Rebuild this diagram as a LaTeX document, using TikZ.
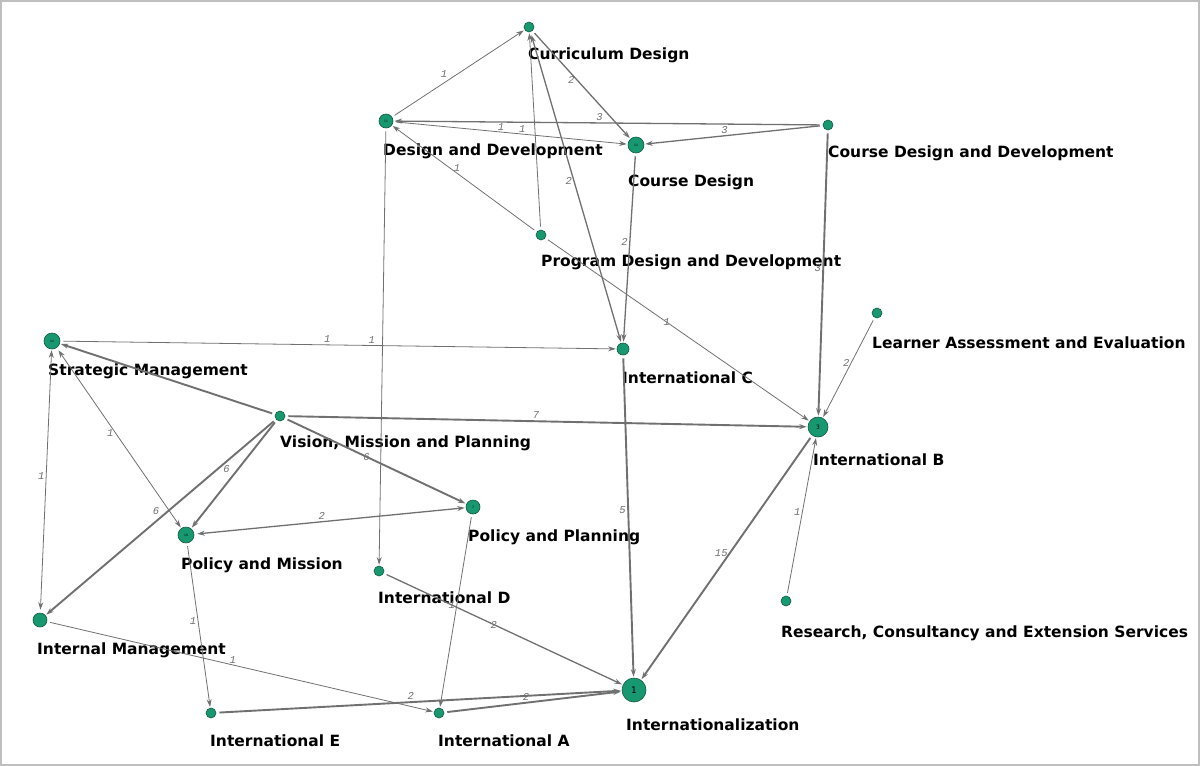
\documentclass[tikz,border=0pt]{standalone}
\usepackage{fontspec}
\setmainfont{DejaVu Sans}
\setmonofont{Liberation Mono}
\usetikzlibrary{arrows.meta}

\definecolor{nodegreen}{RGB}{24,152,112}
\definecolor{rimgreen}{RGB}{18,90,62}
\definecolor{edgegray}{RGB}{112,112,112}

\tikzset{
  vertex/.style={circle,draw=rimgreen,fill=nodegreen,line width=0.6pt,inner sep=0pt,
                 minimum size=#1,font=\fontsize{3}{3}\selectfont},
  vertex/.default=10pt,
  tag/.style={anchor=base west,inner sep=0pt,font=\fontsize{15.5}{15.5}\selectfont\bfseries},
  w/.style={font=\fontsize{10.5}{10.5}\selectfont\ttfamily\itshape,text=edgegray,inner sep=1.5pt},
  lightedge/.style={line width=0.8pt},
  midedge/.style={line width=1.3pt},
  heavyedge/.style={line width=1.9pt},
  every edge/.style={draw=edgegray}
}

\begin{document}
\begin{tikzpicture}[x=1pt,y=-1pt,>={Stealth[length=7.5pt,width=5pt]},shorten >=1pt,shorten <=3pt]
\useasboundingbox (0,0) rectangle (1200,766);
\draw[black!25,line width=1.5pt] (1,1) rectangle (1199,765);

\node[vertex]       (CURDES)   at (529,27)  {};
\node[vertex=14pt]  (DESDEV)   at (386,121) {11};
\node[vertex=16pt]  (COURSE)   at (636,145) {11};
\node[vertex]       (CDDEV)    at (828,125) {};
\node[vertex]       (PROGDD)   at (541,235) {};
\node[vertex=16pt]  (STRAT)    at (52,341)  {12};
\node[vertex=12pt]  (INTC)     at (623,349) {};
\node[vertex]       (LEARN)    at (877,313) {};
\node[vertex]       (VISION)   at (280,416) {};
\node[vertex=20pt,font=\fontsize{6}{6}\selectfont] (INTB) at (818,427) {3};
\node[vertex=14pt]  (POLPLAN)  at (473,507) {7};
\node[vertex=16pt]  (POLMIS)   at (186,535) {10};
\node[vertex]       (INTD)     at (379,571) {};
\node[vertex]       (RESEARCH) at (786,601) {};
\node[vertex=14pt]  (INTMAN)   at (40,620)  {};
\node[vertex]       (INTE)     at (211,713) {};
\node[vertex]       (INTA)     at (439,713) {};
\node[vertex=24pt,font=\fontsize{9}{9}\selectfont] (INTZ) at (634,690) {1};

\node[tag] (CURDESt)   at (528,59)  {Curriculum Design};
\node[tag] (DESDEVt)   at (383,155) {Design and Development};
\node[tag] (COURSEt)   at (628,186) {Course Design};
\node[tag] (CDDEVt)    at (828,157) {Course Design and Development};
\node[tag] (PROGDDt)   at (541,266) {Program Design and Development};
\node[tag] (STRATt)    at (48,375)  {Strategic Management};
\node[tag] (INTCt)     at (622,383) {International C};
\node[tag] (LEARNt)    at (872,348) {Learner Assessment and Evaluation};
\node[tag] (VISIONt)   at (280,447) {Vision, Mission and Planning};
\node[tag] (INTBt)     at (813,465) {International B};
\node[tag] (POLPLANt)  at (468,541) {Policy and Planning};
\node[tag] (POLMISt)   at (181,569) {Policy and Mission};
\node[tag] (INTDt)     at (378,603) {International D};
\node[tag] (RESEARCHt) at (781,637) {Research, Consultancy and Extension Services};
\node[tag] (INTMANt)   at (37,654)  {Internal Management};
\node[tag] (INTEt)     at (210,746) {International E};
\node[tag] (INTAt)     at (438,746) {International A};
\node[tag] (INTZt)     at (626,730) {Internationalization};

\path[->] (DESDEV)   edge[lightedge] node[w,pos=.43,above left] {1} (CURDES)
                     edge[lightedge] node[w,pos=.46,above] {1} node[w,pos=.55,above] {1} (COURSE)
                     edge[lightedge] (INTD)
          (CURDES)   edge[midedge] node[w,pos=.45,left] {2} (COURSE)
                     edge[midedge,<->] node[w,pos=.48,left] {2} (INTC)
          (CDDEV)    edge[midedge] node[w,pos=.52,above] {3} (DESDEV)
                     edge[midedge] node[w,pos=.55,above] {3} (COURSE)
                     edge[heavyedge] node[w,pos=.48,left] {3} (INTB)
          (PROGDD)   edge[lightedge] node[w,pos=.55,above] {1} (DESDEV)
                     edge[lightedge] (CURDES)
                     edge[lightedge] node[w,pos=.46] {1} (INTB)
          (COURSE)   edge[midedge] node[w,pos=.47,left] {2} (INTC)
          (STRAT)    edge[lightedge] node[w,pos=.48,above] {1} node[w,pos=.56,above] {1} (INTC)
                     edge[lightedge,<->] node[w,pos=.47,left] {1} (POLMIS)
          (VISION)   edge[heavyedge] (STRAT)
                     edge[heavyedge] node[w,pos=.48,above] {7} (INTB)
                     edge[heavyedge] node[w,pos=.45] {6} (POLPLAN)
                     edge[heavyedge] node[w,pos=.45,left=6pt] {6} (POLMIS)
                     edge[heavyedge] node[w,pos=.47,left=6pt] {6} (INTMAN)
          (INTMAN)   edge[lightedge,<->] node[w,pos=.52,left] {1} (STRAT)
                     edge[lightedge] node[w,pos=.48,above] {1} (INTA)
          (POLMIS)   edge[midedge,<->] node[w,pos=.47,above] {2} (POLPLAN)
                     edge[lightedge] node[w,pos=.47,left] {1} (INTE)
          (POLPLAN)  edge[lightedge] node[w,pos=.47,left] {1} (INTA)
          (INTD)     edge[midedge] node[w,pos=.46] {2} (INTZ)
          (INTE)     edge[heavyedge] node[w,pos=.48,above] {2} (INTZ)
          (INTA)     edge[heavyedge] node[w,pos=.46,above] {2} (INTZ)
          (INTC)     edge[heavyedge] node[w,pos=.48,left] {5} (INTZ)
          (INTB)     edge[heavyedge] node[w,pos=.48,left] {15} (INTZ)
          (LEARN)    edge[lightedge] node[w,pos=.45,left] {2} (INTB)
          (RESEARCH) edge[lightedge] node[w,pos=.53,left] {1} (INTB);
\end{tikzpicture}
\end{document}
